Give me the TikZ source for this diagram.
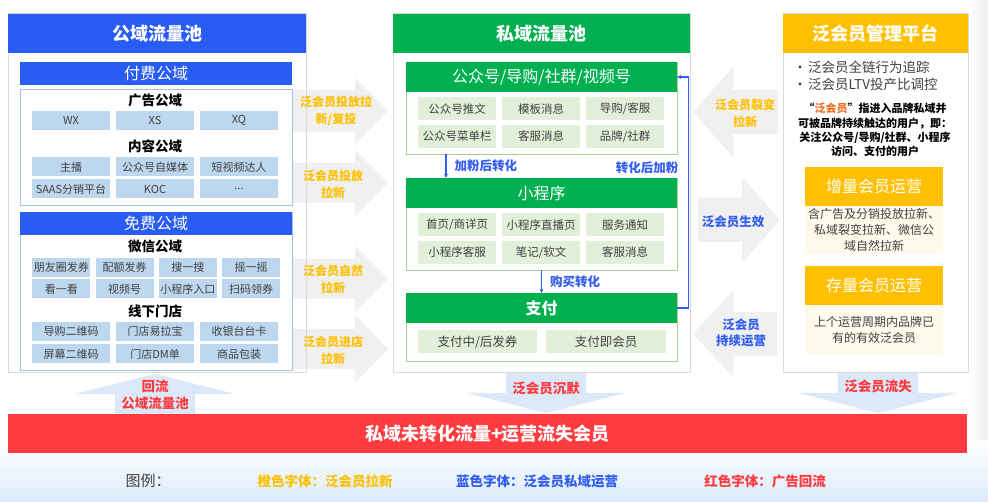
\documentclass[tikz,border=0pt]{standalone}
\usepackage{fontspec}
\setmainfont{Noto Sans CJK SC}
\usepackage{xcolor}
\usetikzlibrary{arrows.meta,positioning}
\definecolor{pubblue}{RGB}{41,91,245}
\definecolor{boxblue}{RGB}{157,195,230}
\definecolor{cellblue}{RGB}{189,215,238}
\definecolor{privgreen}{RGB}{0,176,80}
\definecolor{boxgreen}{RGB}{169,209,142}
\definecolor{cellgreen}{RGB}{226,240,217}
\definecolor{mgmtyellow}{RGB}{255,192,0}
\definecolor{cream}{RGB}{255,250,235}
\definecolor{panelgray}{RGB}{217,217,217}
\definecolor{arrowgray}{RGB}{240,240,240}
\definecolor{arrowblue}{RGB}{218,232,247}
\definecolor{lossred}{RGB}{255,59,63}
\definecolor{newtext}{RGB}{255,192,0}
\definecolor{optext}{RGB}{51,94,240}
\definecolor{quoteorange}{RGB}{244,110,35}
\definecolor{bodygray}{RGB}{64,64,64}
\definecolor{bgblue}{RGB}{220,236,250}
\definecolor{stripgray}{RGB}{240,240,240}
\tikzset{
  corners/.style n args={4}{minimum width={#3-(#1)},minimum height={#4-(#2)},
    at={({(#1+#3)/2},{(#2+#4)/2})}},
  panel/.style={draw=panelgray,line width=1pt,inner sep=0pt},
  header/.style={inner sep=0pt,text=white,font=\fontsize{18}{20}\selectfont\bfseries},
  subbar/.style={inner sep=0pt,text=white,font=\fontsize{16}{18}\selectfont},
  groupbox/.style={draw=#1,fill=white,line width=0.8pt,inner sep=0pt},
  grouptitle/.style={font=\fontsize{13.5}{15}\selectfont\bfseries,text=black},
  cell/.style={fill=#1,inner sep=0pt,minimum height=19pt,minimum width=78pt,
    font=\fontsize{11}{13}\selectfont,text=bodygray},
  bulletline/.style={anchor=west,inner sep=0pt,font=\fontsize{13.5}{15}\selectfont,text=bodygray},
  defnote/.style={align=center,inner sep=0pt,font=\fontsize{11}{14.3}\selectfont\bfseries,text=black},
  bodynote/.style={align=center,inner sep=0pt,font=\fontsize{12}{16}\selectfont,text=bodygray},
  flownote/.style={align=center,inner sep=0pt,font=\fontsize{12}{17}\selectfont\bfseries,text=newtext},
  opnote/.style={align=center,inner sep=0pt,font=\fontsize{12.5}{16}\selectfont\bfseries,text=optext},
  lossnote/.style={align=center,inner sep=0pt,font=\fontsize{13.5}{17}\selectfont\bfseries,text=lossred},
  link/.style={-{Stealth[length=4pt,width=4pt]},line width=1.2pt,draw=optext},
  linklabel/.style={inner sep=0pt,font=\fontsize{12.5}{14}\selectfont\bfseries,text=optext},
  legend/.style={inner sep=0pt,font=\fontsize{13.5}{15}\selectfont\bfseries}
}
% block arrows: start, tip, centre, shaft half, head half, head length, colour
\newcommand{\fatarrowh}[7]{%
  \fill[#7] ({#1},{#3-#4}) -- ({#2-(#6)},{#3-#4}) -- ({#2-(#6)},{#3-#5})
    -- ({#2},{#3}) -- ({#2-(#6)},{#3+#5}) -- ({#2-(#6)},{#3+#4})
    -- ({#1},{#3+#4}) -- cycle;}
\newcommand{\fatarrowv}[7]{%
  \fill[#7] ({#3-#4},{#1}) -- ({#3-#4},{#2-(#6)}) -- ({#3-#5},{#2-(#6)})
    -- ({#3},{#2}) -- ({#3+#5},{#2-(#6)}) -- ({#3+#4},{#2-(#6)})
    -- ({#3+#4},{#1}) -- cycle;}
\begin{document}
\begin{tikzpicture}[x=1pt,y=-1pt]
  \useasboundingbox (0,0) rectangle (988,502);
  \fill[white] (0,0) rectangle (988,502);
  \shade[left color=white,right color=stripgray] (968,0) rectangle (988,502);
  \shade[top color=white,bottom color=bgblue] (0,440) rectangle (988,502);

  % flow arrows
  \fatarrowh{293}{388}{111}{21}{33}{33}{arrowgray}
  \fatarrowh{293}{388}{183}{20}{33}{33}{arrowgray}
  \fatarrowh{293}{388}{279}{20}{33}{33}{arrowgray}
  \fatarrowh{293}{388}{349}{20}{34}{33}{arrowgray}
  \fatarrowh{778}{693}{112}{22}{45}{-40}{arrowgray}
  \fatarrowh{698}{780}{220}{22}{43}{38}{arrowgray}
  \fatarrowh{777}{693}{334}{22}{43}{-40}{arrowgray}
  \fatarrowv{415}{374}{155}{40}{80}{-20}{arrowblue}
  \fatarrowv{373}{413}{546}{40}{79}{20}{arrowblue}
  \fatarrowv{373}{413}{878}{40}{79}{20}{arrowblue}

  % public pool
  \node[panel,corners={8}{14}{306}{373}] (pubpool) {};
  \node[header,fill=pubblue,corners={8}{14}{306}{53}] (pubhead) {公域流量池};
  \node[subbar,fill=pubblue,corners={20}{62}{292}{85}] (paidbar) {付费公域};
  \node[groupbox=boxblue,corners={20}{89}{292}{205}] (paidbox) {};
  \node[grouptitle] (adtitle) at (155,100) {广告公域};
  \foreach \t [count=\i, evaluate=\i as \x using 84*\i-13] in {WX,XS,XQ}
    \node[cell=cellblue] (ad\i) at (\x,120.5) {\t};
  \node[grouptitle] (kotitle) at (155,146) {内容公域};
  \foreach \t [count=\i, evaluate=\i as \x using 84*\i-13] in {主播,公众号自媒体,短视频达人}
    \node[cell=cellblue] (koa\i) at (\x,167) {\t};
  \node[cell=cellblue] (kob1) at (71,189) {SAAS分销平台};
  \node[cell=cellblue] (kob2) at (155,189) {KOC};
  \node[cell=cellblue] (kob3) at (239,189) {...};
  \node[groupbox=boxblue,corners={20}{212}{292}{370}] (freebox) {};
  \node[subbar,fill=pubblue,corners={20}{212}{292}{235}] (freebar) {免费公域};
  \node[grouptitle] (wxtitle) at (155,246) {微信公域};
  \foreach \t [count=\i, evaluate=\i as \x using 63.3*\i-2] in {朋友圈发券,配额发券,搜一搜,摇一摇}
    \node[cell=cellblue,minimum width=58pt] (wxa\i) at (\x,267.5) {\t};
  \foreach \t [count=\i, evaluate=\i as \x using 63.3*\i-2] in {看一看,视频号,小程序入口,扫码领券}
    \node[cell=cellblue,minimum width=58pt] (wxb\i) at (\x,289) {\t};
  \node[grouptitle] (shoptitle) at (155,311) {线下门店};
  \foreach \t [count=\i, evaluate=\i as \x using 84*\i-13] in {导购二维码,门店易拉宝,收银台台卡}
    \node[cell=cellblue] (shopa\i) at (\x,331.5) {\t};
  \foreach \t [count=\i, evaluate=\i as \x using 84*\i-13] in {屏幕二维码,门店DM单,商品包装}
    \node[cell=cellblue] (shopb\i) at (\x,354) {\t};

  % private pool
  \node[panel,corners={393}{14}{690}{373}] (privpool) {};
  \node[header,fill=privgreen,corners={393}{14}{690}{53}] (privhead) {私域流量池};
  \node[groupbox=boxgreen,corners={406}{62}{677}{154}] (oabox) {};
  \node[subbar,fill=privgreen,corners={406}{62}{677}{92}] (oahead) {公众号/导购/社群/视频号};
  \foreach \t [count=\i, evaluate=\i as \x using 84*\i+373] in {公众号推文,模板消息,导购/客服}
    \node[cell=cellgreen,minimum height=23pt,font=\fontsize{11.5}{13}\selectfont] (oaa\i) at (\x,109) {\t};
  \foreach \t [count=\i, evaluate=\i as \x using 84*\i+373] in {公众号菜单栏,客服消息,品牌/社群}
    \node[cell=cellgreen,minimum height=23pt,font=\fontsize{11.5}{13}\selectfont] (oab\i) at (\x,136.5) {\t};
  \node[groupbox=boxgreen,corners={406}{178}{677}{270}] (mpbox) {};
  \node[subbar,fill=privgreen,corners={406}{178}{677}{208}] (mphead) {小程序};
  \foreach \t [count=\i, evaluate=\i as \x using 84*\i+373] in {首页/商详页,小程序直播页,服务通知}
    \node[cell=cellgreen,minimum height=23pt,font=\fontsize{11.5}{13}\selectfont] (mpa\i) at (\x,225) {\t};
  \foreach \t [count=\i, evaluate=\i as \x using 84*\i+373] in {小程序客服,笔记/软文,客服消息}
    \node[cell=cellgreen,minimum height=23pt,font=\fontsize{11.5}{13}\selectfont] (mpb\i) at (\x,252.5) {\t};
  \node[groupbox=boxgreen,corners={406}{293}{677}{361}] (paybox) {};
  \node[subbar,fill=privgreen,font=\fontsize{16}{18}\selectfont\bfseries,corners={406}{293}{677}{323}] (payhead) {支付};
  \node[cell=cellgreen,minimum width=119pt,minimum height=23pt,font=\fontsize{12.5}{14}\selectfont] (pay1) at (477.5,342) {支付中/后发券};
  \node[cell=cellgreen,minimum width=120pt,minimum height=23pt,font=\fontsize{12.5}{14}\selectfont] (pay2) at (606,342) {支付即会员};

  \draw[link] ([xshift=-95.5pt]oabox.south) -- node[linklabel,right=8pt] {加粉后转化} ([xshift=-95.5pt]mphead.north);
  \draw[link] (mpbox.south) -- node[linklabel,right=8pt] {购买转化} (payhead.north);
  \draw[link] (payhead.east) -- ++(11,0) |- (oahead.east);
  \node[linklabel] (backlbl) at (647,168) {转化后加粉};

  % member platform
  \node[panel,corners={783}{14}{968}{373}] (mgmt) {};
  \node[header,fill=mgmtyellow,corners={783}{14}{968}{53}] (mgmthead) {泛会员管理平台};
  \node[bulletline] (track) at (791,67) {\makebox[17pt][l]{\,•}泛会员全链行为追踪};
  \node[bulletline] (ltv) at (791,84) {\makebox[17pt][l]{\,•}泛会员LTV投产比调控};
  \node[defnote] (defn) at (875,130) {“{\color{quoteorange}泛会员}”指进入品牌私域并\\可被品牌持续触达的用户，即：\\关注公众号/导购/社群、小程序\\访问、支付的用户};
  \node[bodynote,fill=cream,corners={805}{206}{943}{254}] (incbox) {含广告及分销投放拉新、\\私域裂变拉新、微信公\\域自然拉新};
  \node[subbar,fill=mgmtyellow,corners={805}{167}{943}{206}] (incbar) {增量会员运营};
  \node[bodynote,fill=cream,corners={805}{305}{943}{354}] (stockbox) {上个运营周期内品牌已\\有的有效泛会员};
  \node[subbar,fill=mgmtyellow,corners={805}{266}{943}{305}] (stockbar) {存量会员运营};

  % arrow texts
  \node[flownote] (castnew) at (336,111) {泛会员投放拉\\新/复投};
  \node[flownote] (castpaid) at (333,184) {泛会员投放\\拉新};
  \node[flownote] (natural) at (333,279) {泛会员自然\\拉新};
  \node[flownote] (instore) at (333,350) {泛会员进店\\拉新};
  \node[flownote] (fission) at (745,113) {泛会员裂变\\拉新};
  \node[opnote] (active) at (733,222) {泛会员生效};
  \node[opnote] (keepop) at (741,333) {泛会员\\持续运营};
  \node[lossnote] (backflow) at (155,395) {回流\\公域流量池};
  \node[lossnote] (silent) at (546,388) {泛会员沉默};
  \node[lossnote] (churn) at (878,386) {泛会员流失};

  \node[header,fill=lossred,corners={8}{414}{967}{453}] (lostpool) {私域未转化流量+运营流失会员};

  % legend
  \node[legend,font=\fontsize{15}{17}\selectfont,text=bodygray] (legtitle) at (148,481) {图例：};
  \node[legend,text=newtext] (legnew) at (325,481) {橙色字体：泛会员拉新};
  \node[legend,text=optext] (legop) at (537,481) {蓝色字体：泛会员私域运营};
  \node[legend,text=lossred] (legloss) at (765,481) {红色字体：广告回流};
\end{tikzpicture}
\end{document}
